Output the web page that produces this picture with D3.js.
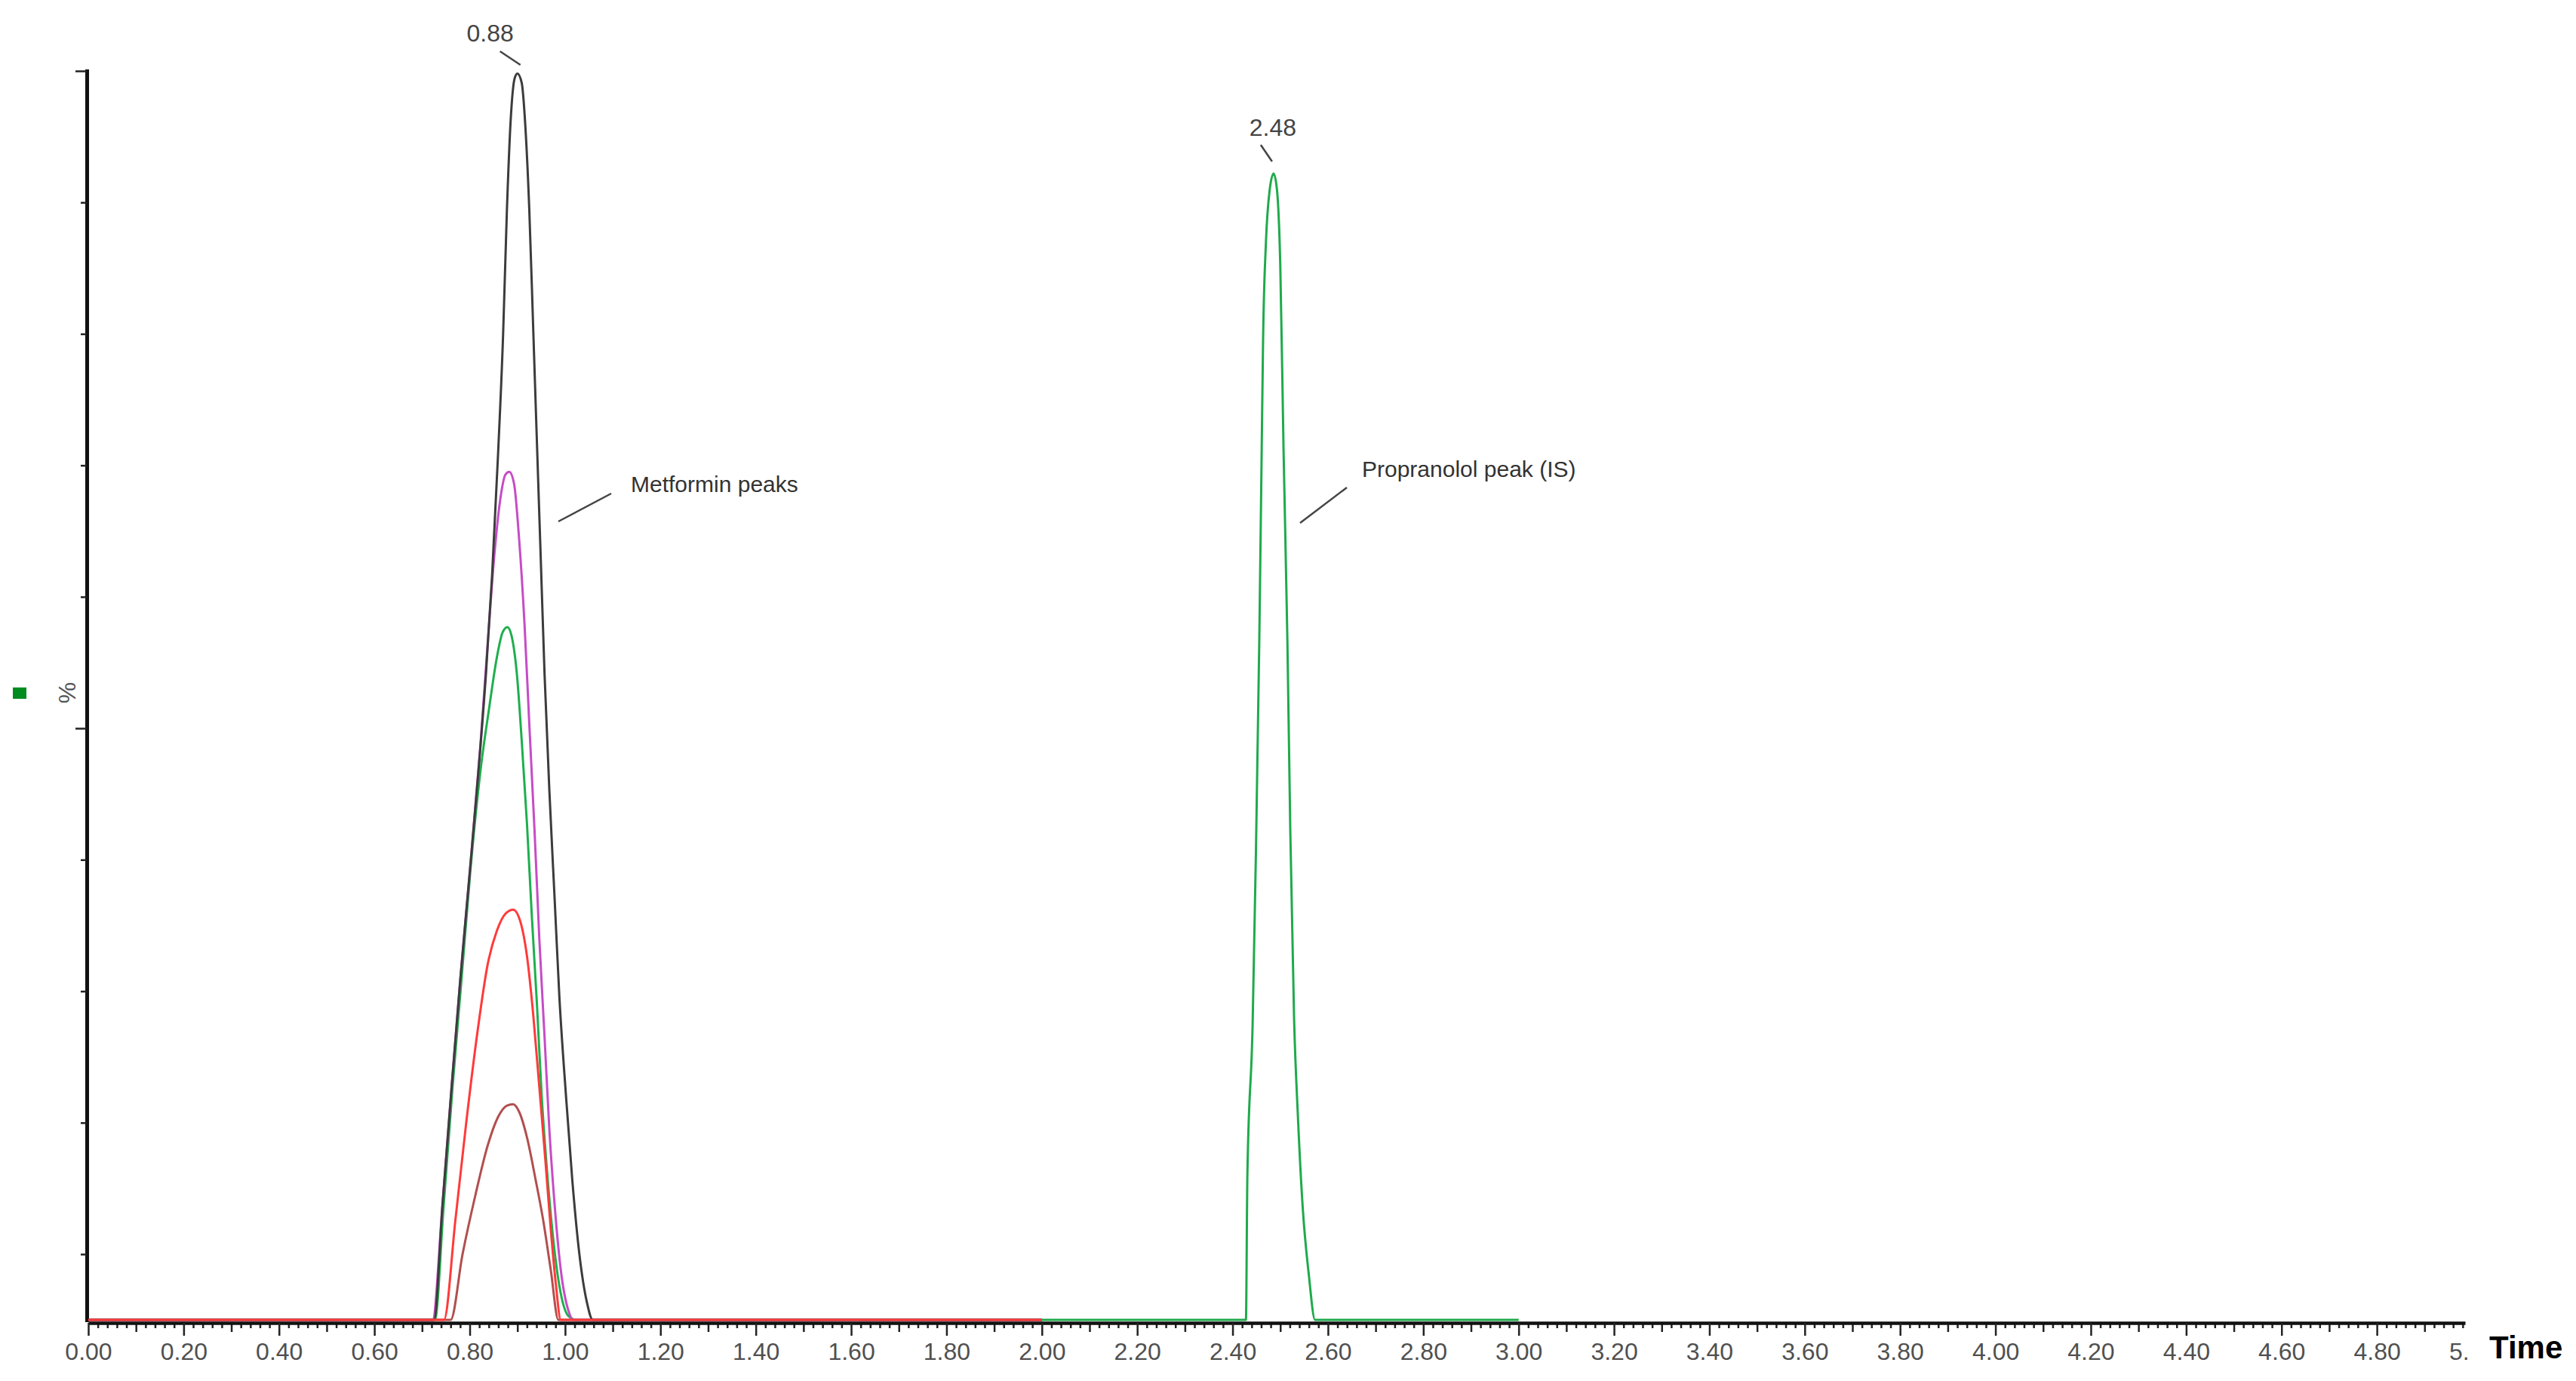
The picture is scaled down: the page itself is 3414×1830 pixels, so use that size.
<!DOCTYPE html>
<html>
<head>
<meta charset="utf-8">
<script src="https://cdn.jsdelivr.net/npm/d3@7"></script>
<style>
  body { margin: 0; background: #fff; }
  svg { display: block; font-family: "Liberation Sans", Arial, sans-serif; }
</style>
</head>
<body>
<svg id="chart" width="3414" height="1830"></svg>
<script>
// chromatogram traces: [time (min), relative intensity %]
const metforminBlack = [[0,0],[0.725,0],[0.743,8.8],[0.762,17.7],[0.780,25.8],[0.800,34],[0.818,41.6],[0.834,49.1],
  [0.847,56.7],[0.859,65.5],[0.870,74.9],[0.878,84.4],[0.886,91.3],[0.894,94.4],[0.900,94.8],[0.909,94.1],
  [0.917,90.6],[0.925,84.4],[0.933,75.6],[0.941,66.7],[0.949,57.9],[0.957,49.1],[0.967,40.3],[0.978,32.1],
  [0.988,24.6],[1.002,17],[1.015,10.7],[1.030,5],[1.046,1.3],[1.058,0],[2.0,0]];
const metforminMagenta = [[0,0],[0.722,0],[0.743,8.8],[0.762,17.7],[0.780,25.8],[0.800,34],[0.822,43.5],[0.838,51.6],
  [0.851,57.9],[0.864,62.4],[0.875,64.3],[0.883,64.5],[0.893,63.6],[0.904,59.2],[0.915,52.9],[0.925,45.3],
  [0.936,37.2],[0.946,29],[0.957,21.5],[0.967,14.5],[0.978,8.8],[0.991,3.8],[1.007,0.7],[1.017,0],[2.0,0]];
const metforminGreen = [[0,0],[0.727,0],[0.745,8.5],[0.764,17.7],[0.783,26],[0.801,34],[0.822,41.6],[0.841,46.6],
  [0.857,50.4],[0.869,52.3],[0.879,52.7],[0.888,52],[0.899,49.1],[0.909,44.1],[0.920,37.8],[0.930,30.9],
  [0.941,24],[0.951,17],[0.962,11.4],[0.973,6.9],[0.988,2.6],[1.007,0.3],[1.025,0],[2.0,0]];
const metforminBrown = [[0,0],[0.760,0],[0.785,5],[0.812,9.5],[0.838,13.3],[0.859,15.4],[0.878,16.3],[0.891,16.4],
  [0.904,15.8],[0.920,13.9],[0.938,10.7],[0.954,7.6],[0.970,3.8],[0.986,0],[2.0,0]];
const metforminRed = [[0,0],[0.746,0],[0.770,7.6],[0.793,15.1],[0.817,22.1],[0.838,27.1],[0.857,29.6],[0.875,30.9],
  [0.891,31.2],[0.907,30.2],[0.920,27.7],[0.933,23.3],[0.946,17.7],[0.959,12],[0.970,6.9],[0.981,2.6],[0.991,0],[2.0,0]];
const propranolol = [[2.0,0],[2.428,0],[2.431,10.9],[2.442,22.4],[2.449,35.6],[2.456,51.6],[2.461,66],[2.464,74.6],
  [2.470,82],[2.478,86],[2.486,87.2],[2.493,86],[2.500,80.3],[2.507,66],[2.515,51.6],[2.521,37.3],[2.529,22.9],
  [2.537,15.5],[2.547,8.6],[2.560,3.4],[2.573,0],[3.0,0]];

const peakLabels = ["0.88", "2.48"];
const xMajorTicks = [0,0.2,0.4,0.6,0.8,1.0,1.2,1.4,1.6,1.8,2.0,2.2,2.4,2.6,2.8,3.0,3.2,3.4,3.6,3.8,4.0,4.2,4.4,4.6,4.8,5.0];
const yTicks = [5,15,25,35,45,55,65,75,85,95];
const yLongTicks = [45,95];
const xTitle = "Time";
const yTitle = "%";
const annotations = ["Metformin peaks", "Propranolol peak (IS)"];

const svg = d3.select("#chart");
svg.append("rect").attr("width", 3414).attr("height", 1830).attr("fill", "#fff");

const x = d3.scaleLinear().domain([0, 4.985]).range([117, 3267]);
const y = d3.scaleLinear().domain([0, 95]).range([1749, 94]);

// x axis: labelled every 0.2, medium every 0.1, small every 0.02
svg.append("clipPath").attr("id", "xclip")
  .append("rect").attr("x", -200).attr("y", -20).attr("width", 3270 + 200).attr("height", 100);

const minorVals = d3.range(0, 250).filter(i => i % 5 !== 0).map(i => i / 50);
const mediumVals = d3.range(0, 50).filter(i => i % 2 === 1).map(i => i / 10);

// the last label runs off the end of the axis and is cut in the original
const fmt = d3.format(".2f");
const tickLabel = d => d > x.domain()[1] ? fmt(d).slice(0, 2) : fmt(d);

const xg = svg.append("g").attr("transform", "translate(0,1753)").attr("clip-path", "url(#xclip)");
xg.append("g").call(d3.axisBottom(x).tickValues(minorVals).tickSize(7).tickSizeOuter(0).tickFormat(""));
xg.append("g").call(d3.axisBottom(x).tickValues(mediumVals).tickSize(12).tickSizeOuter(0).tickFormat(""));
const xMain = xg.append("g").call(d3.axisBottom(x).tickValues(xMajorTicks).tickSize(17).tickSizeOuter(0)
  .tickPadding(9).tickFormat(tickLabel));
xg.selectAll(".tick line").attr("stroke", "#222").attr("stroke-width", 2.5);
xg.selectAll(".domain").attr("stroke", "none");
xMain.select(".domain").attr("stroke", "#111").attr("stroke-width", 4.5);
xMain.selectAll("text").attr("font-size", 32).attr("fill", "#505050")
  .attr("font-family", "'Liberation Sans', Arial, sans-serif");
xMain.selectAll(".tick").filter(d => d > x.domain()[1]).select("text")
  .attr("text-anchor", "start").attr("x", -31);

// y axis, unlabelled ticks
const yg = svg.append("g").attr("transform", "translate(115,0)")
  .call(d3.axisLeft(y).tickValues(yTicks).tickSize(8).tickSizeOuter(0).tickFormat(""));
yg.select(".domain").attr("stroke", "#111").attr("stroke-width", 5).attr("stroke-linecap", "square");
yg.selectAll(".tick line").attr("stroke", "#222").attr("stroke-width", 2.5)
  .attr("x2", d => yLongTicks.includes(d) ? -15 : -8);

// traces
const line = d3.line().x(d => x(d[0])).y(d => y(d[1])).curve(d3.curveMonotoneX);
const traces = [
  { data: propranolol, color: "#1faa4c" },
  { data: metforminBrown, color: "#b24f4f" },
  { data: metforminGreen, color: "#1fae4e" },
  { data: metforminMagenta, color: "#c64cc6" },
  { data: metforminBlack, color: "#3c3c3c" },
  { data: metforminRed, color: "#ff3a3a" }
];
svg.append("g").selectAll("path")
  .data(traces)
  .join("path")
  .attr("d", d => line(d.data))
  .attr("fill", "none")
  .attr("stroke", d => d.color)
  .attr("stroke-width", 3)
  .attr("stroke-linejoin", "round");

// peak apex labels with little leader lines
const apexOf = arr => arr.reduce((a, b) => b[1] > a[1] ? b : a);
const apexes = [apexOf(metforminBlack), apexOf(propranolol)];
const labelOffsets = [
  { dx: -36, ty: 55, lx1: -23, ly1: 68, lx2: 4, ly2: 86 },
  { dx: -1, ty: 180, lx1: -17, ly1: 192, lx2: -2, ly2: 214 }
];
apexes.forEach((p, i) => {
  const ax = x(p[0]);
  const o = labelOffsets[i];
  svg.append("text").attr("x", ax + o.dx).attr("y", o.ty).attr("text-anchor", "middle")
    .attr("font-size", 32).attr("fill", "#444").text(peakLabels[i]);
  svg.append("line").attr("x1", ax + o.lx1).attr("y1", o.ly1).attr("x2", ax + o.lx2).attr("y2", o.ly2)
    .attr("stroke", "#444").attr("stroke-width", 2.5);
});

// callouts
svg.append("text").attr("x", 836).attr("y", 652).attr("font-size", 30).attr("fill", "#333").text(annotations[0]);
svg.append("line").attr("x1", 740).attr("y1", 691).attr("x2", 810).attr("y2", 654)
  .attr("stroke", "#444").attr("stroke-width", 2.5);
svg.append("text").attr("x", 1805).attr("y", 632).attr("font-size", 30).attr("fill", "#333").text(annotations[1]);
svg.append("line").attr("x1", 1723).attr("y1", 693).attr("x2", 1785).attr("y2", 646)
  .attr("stroke", "#444").attr("stroke-width", 2.5);

// axis titles
svg.append("text").attr("x", 3299).attr("y", 1800).attr("font-size", 42).attr("font-weight", "bold")
  .attr("fill", "#000").text(xTitle);
svg.append("text").attr("transform", "translate(100,918) rotate(-90)").attr("text-anchor", "middle")
  .attr("font-size", 32).attr("fill", "#555").text(yTitle);
svg.append("rect").attr("x", 17).attr("y", 911).attr("width", 18).attr("height", 15).attr("fill", "#008c1e");
</script>
</body>
</html>
